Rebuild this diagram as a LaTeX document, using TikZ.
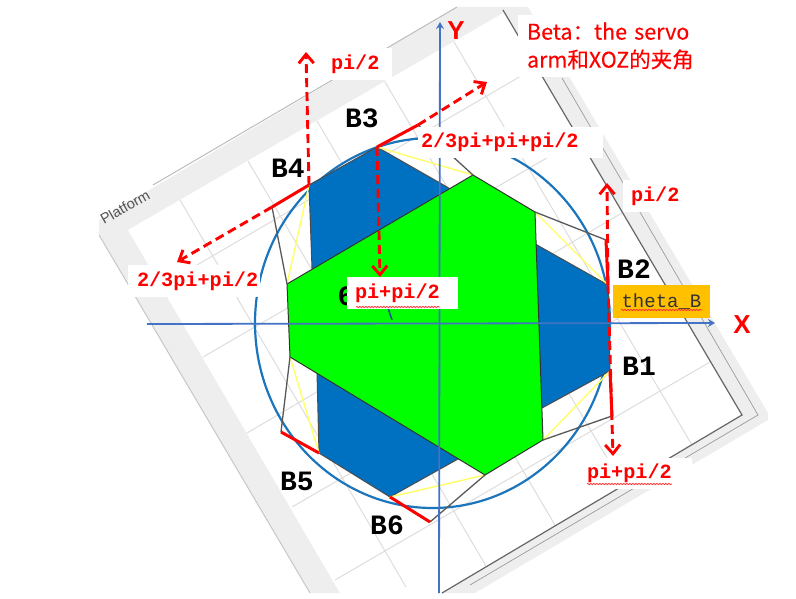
\documentclass[tikz,border=0pt]{standalone}
\usepackage{fontspec}
\setmainfont{Liberation Sans}
\setmonofont{Liberation Mono}
\newfontfamily\cjk[FakeBold=0.25]{Noto Sans CJK SC}
\usetikzlibrary{arrows.meta,decorations.pathmorphing}
\definecolor{bandgray}{HTML}{EEEEEE}
\definecolor{gridgray}{HTML}{DDDDDD}
\definecolor{framegray}{HTML}{666666}
\definecolor{basedark}{HTML}{0070C0}
\definecolor{circleblue}{HTML}{1B75BC}
\definecolor{axisblue}{HTML}{4472C4}
\definecolor{thetaback}{HTML}{FFC000}
\definecolor{linkyellow}{HTML}{FFFF66}
\tikzset{
  gridline/.style={gridgray, line width=1},
  frameline/.style={framegray, line width=1.2},
  armline/.style={gray!70!black, line width=1.3},
  linkline/.style={linkyellow, line width=1.4},
  redarm/.style={red, line width=3},
  redarrow/.style={red, line width=2.9, dash pattern=on 9pt off 5pt, -{Straight Barb[length=9pt,width=15pt,line width=2.9pt]}},
  axisline/.style={axisblue, line width=1.8, -{Stealth[length=7pt,width=8pt]}},
  anglelabel/.style={fill=white, text=red, inner ysep=0pt, align=left, font=\ttfamily\bfseries\fontsize{20.2}{22}\selectfont},
  pointlabel/.style={inner sep=0pt, font=\ttfamily\bfseries\fontsize{28}{30}\selectfont},
  axislabel/.style={inner sep=0pt, text=red, font=\bfseries\fontsize{26}{30}\selectfont},
  squiggle/.style={red!80!white, line width=0.8, decorate, decoration={snake, amplitude=0.7pt, segment length=3pt}}
}
\begin{document}
\begin{tikzpicture}[x=1pt, y=-1pt]
\useasboundingbox (0,0) rectangle (796,599);

% plot window behind the platform
\fill [bandgray] (99,220) -- (457,7) -- (528,7) -- (768,413) -- (768,420) -- (475,593) -- (310,593) -- (99,235) -- cycle;
\fill [white] (128,230) -- (505,12) -- (742,415) -- (442,593) -- (340,593) -- cycle;
\draw [gridline] (454,42) -- (692,445);
\draw [gridline] (385,82) -- (623,485);
\draw [gridline] (317,121) -- (555,525);
\draw [gridline] (248,161) -- (486,566);
\draw [gridline] (180,200) -- (406,587);
\draw [gridline] (161,286) -- (545,62);
\draw [gridline] (203,357) -- (590,133);
\draw [gridline] (247,433) -- (622,213);
\draw [gridline] (292,507) -- (667,290);
\draw [gridline] (335,580) -- (710,362);
\draw [gridgray!85!black, line width=1] (153,185) -- (457,7);
\draw [frameline] (503,10) -- (742,415) -- (442,593);
\draw [gridgray!70!black, line width=0.7] (562,78) -- (758,415) -- (470,585);
\draw [gridgray!90!black, line width=1] (99,235) -- (310,593);
\node (platform) [rotate=30, text=framegray!80!black, inner sep=0pt, font=\fontsize{14.5}{16}\selectfont] at (125,207) {Platform};

\coordinate (B1) at (610,371);
\coordinate (B2) at (608,285);
\coordinate (B3) at (377,147);
\coordinate (B4) at (309,185);
\coordinate (B5) at (319,453);
\coordinate (B6) at (390,497);
\coordinate (T1) at (543,440);
\coordinate (T2) at (535,212);
\coordinate (T3) at (473,175);
\coordinate (T4) at (287,284);
\coordinate (T5) at (290,357);
\coordinate (T6) at (485,475);
\coordinate (A1) at (612,416);
\coordinate (A2) at (606,240);
\coordinate (A3) at (418,125);
\coordinate (A4) at (272,207);
\coordinate (A5) at (281,432);
\coordinate (A6) at (430,522);
\coordinate (tipa) at (306,52);
\coordinate (tipb) at (487,82);
\coordinate (tipc) at (380,277);
\coordinate (tipd) at (177,262);
\coordinate (tipe) at (607,183);
\coordinate (tipf) at (613,456);

\draw [circleblue, line width=2.2] (432.5,323) ellipse [x radius=177.5, y radius=185];

% base and moving platform
\filldraw [fill=basedark, draw=black!70, line width=1] (B1) -- (B2) -- (537,245) -- (447,187) -- (B3) -- (B4) -- (312,268) -- (317,372) -- (B5) -- (B6) -- (458,459) -- (542,408) -- cycle;
\draw [linkline] (B1) -- (T1);
\draw [linkline] (B2) -- (T2);
\draw [linkline] (B3) -- (T3);
\draw [linkline] (B4) -- (T4);
\draw [linkline] (B5) -- (T5);
\draw [linkline] (B6) -- (T6);
\filldraw [fill=green, draw=black!80, line width=1] (T1) -- (T2) -- (T3) -- (T4) -- (T5) -- (T6) -- cycle;
\draw [armline] (T1) -- (A1);
\draw [armline] (T2) -- (A2);
\draw [armline] (T3) -- (A3);
\draw [armline] (T4) -- (A4);
\draw [armline] (T5) -- (A5);
\draw [armline] (T6) -- (A6);
\draw [circleblue!70!black, line width=1.5] (388,308) -- (392,320);
\node (six) [pointlabel] at (346,296) {6};

\draw [axisline] (147,324) -- (715,323);
\draw [axisline] (439,593) -- (440,22);
\node (xlabel) [axislabel] at (742,325) {X};
\node (ylabel) [axislabel] at (456,31) {Y};

\draw [redarm] (B1) -- (A1);
\draw [redarm] (B2) -- (A2);
\draw [redarm] (B3) -- (A3);
\draw [redarm] (B4) -- (A4);
\draw [redarm] (B5) -- (A5);
\draw [redarm] (B6) -- (A6);
\draw [redarrow] (B4) -- (tipa);
\draw [redarrow] (A3) -- (tipb);
\draw [redarrow] (B3) -- (tipc);
\draw [redarrow] (A4) -- (tipd);
\draw [redarrow] (B2) -- (tipe);
\draw [redarrow] (B2) -- (tipf);

\node (angtop) [anglelabel, inner xsep=3, text width=58, minimum height=32] at (360,64) {pi/2};
\node (angleft) [anglelabel, inner xsep=9, text width=114, minimum height=32] at (194,281) {2/3pi+pi/2};
\node (angup) [anglelabel, inner xsep=3, text width=179, minimum height=31] at (510.5,142.5) {2/3pi+pi+pi/2};
\node (angright) [anglelabel, inner xsep=8, text width=50, minimum height=32] at (656,196) {pi/2};
\node (angmid) [anglelabel, inner xsep=8, text width=95, minimum height=32] at (402.5,293) {pi+pi/2};
\node (angbot) [anglelabel, inner xsep=2, text width=103, minimum height=31] at (638.5,473) {pi+pi/2};
\draw [squiggle] (587,484) -- (672,484);
\draw [squiggle] (356,307) -- (440,307);

\node (theta) [fill=thetaback, text=black!80, inner sep=0pt, minimum width=97, minimum height=33, font=\ttfamily\fontsize{19}{21}\selectfont] at (661.5,301.5) {theta\_B};
\draw [squiggle] (621,310) -- (702,310);

\node (beta) [fill=white, text=red, align=left, inner xsep=9, inner ysep=0pt, text width=174, minimum height=62, font=\cjk\fontsize{21.5}{28}\selectfont] at (614,46) {Beta：the servo\\arm和XOZ的夹角};

\node (pb1) [pointlabel] at (639,366) {B1};
\node (pb2) [pointlabel] at (634,269) {B2};
\node (pb3) [pointlabel] at (362,118) {B3};
\node (pb4) [pointlabel] at (288,168) {B4};
\node (pb5) [pointlabel] at (297,481) {B5};
\node (pb6) [pointlabel] at (387,525) {B6};
\end{tikzpicture}
\end{document}
